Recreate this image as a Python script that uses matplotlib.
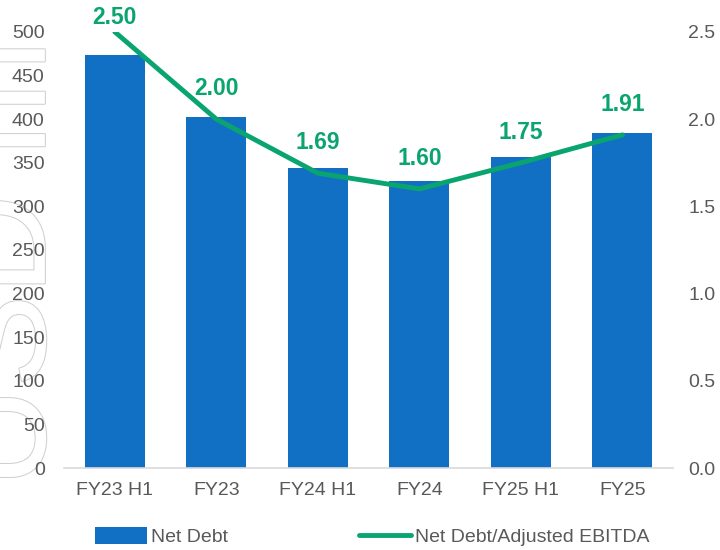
import matplotlib
matplotlib.use("Agg")
import matplotlib.pyplot as plt
import matplotlib.patheffects as pe
from matplotlib.lines import Line2D
from matplotlib.patches import Patch

plt.rcParams["font.family"] = ["Liberation Sans", "DejaVu Sans"]

# chart data
periods = ["FY23 H1", "FY23", "FY24 H1", "FY24", "FY25 H1", "FY25"]
net_debt = [474, 403, 344, 329, 357, 384]
leverage = [2.50, 2.00, 1.69, 1.60, 1.75, 1.91]
left_ticks = [0, 50, 100, 150, 200, 250, 300, 350, 400, 450, 500]
right_ticks = [0.0, 0.5, 1.0, 1.5, 2.0, 2.5]

BLUE = "#1270c4"
GREEN = "#0aa56f"
GREY = "#595959"

fig = plt.figure(figsize=(7.2, 5.5), dpi=100)
ax = fig.add_axes([0.089, 0.149, 0.846, 0.793])
ax2 = ax.twinx()

x = range(len(periods))
ax.bar(x, net_debt, width=0.59, color=BLUE, zorder=2)
ax.set_xlim(-0.5, len(periods) - 0.5)
ax.set_ylim(0, 500)
ax.set_yticks(left_ticks)
ax.set_xticks(list(x))
ax.set_xticklabels(periods)

ax2.plot(list(x), leverage, color=GREEN, lw=3.5, solid_capstyle="round", zorder=3)
ax2.set_ylim(0, 2.5)
ax2.set_yticks(right_ticks)
ax2.set_yticklabels([f"{t:.1f}" for t in right_ticks])

# value labels above the line, kept inside the figure
for i, v in enumerate(leverage):
    ax2.text(i, min(v + 0.175, 2.585), f"{v:.2f}", color=GREEN, fontsize=16.5,
             fontweight="bold", ha="center", va="center", clip_on=False)

for a in (ax, ax2):
    for s in a.spines.values():
        s.set_visible(False)
    a.tick_params(length=0, colors=GREY, labelsize=14)
ax.spines["bottom"].set_visible(True)
ax.spines["bottom"].set_color("#d9d9d9")
ax.spines["bottom"].set_linewidth(1.2)
ax.tick_params(axis="y", pad=14)
ax.tick_params(axis="x", pad=10)
ax2.tick_params(axis="y", pad=11)

# faint hollow unit label behind the left axis
fig.text(-0.078, 0.52, "USD m", rotation=90, fontsize=100, color="white",
         ha="left", va="center", zorder=-1,
         path_effects=[pe.Stroke(linewidth=1.5, foreground="#d0d0d0"), pe.Normal()])

handles = [Patch(facecolor=BLUE), Line2D([], [], color=GREEN, lw=3.5, solid_capstyle="round")]
fig.legend(handles, ["Net Debt", "Net Debt/Adjusted EBITDA"], loc="center",
           bbox_to_anchor=(0.517, 0.024), ncol=2, frameon=False, fontsize=14,
           handlelength=2.7, handleheight=0.9, handletextpad=0.2,
           columnspacing=6.7, labelcolor=GREY)

fig.savefig("out.png", dpi=100)
